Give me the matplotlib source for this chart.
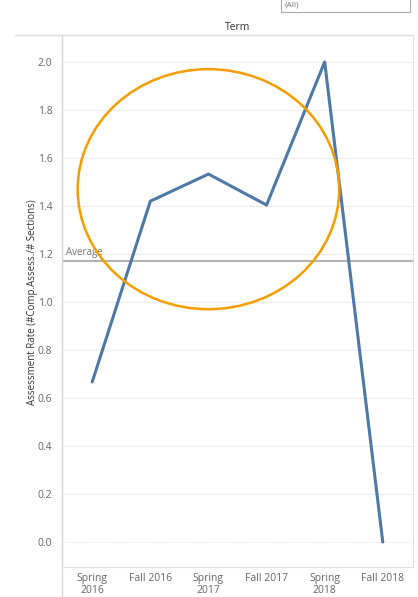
import matplotlib
matplotlib.use("Agg")
import matplotlib.pyplot as plt
from matplotlib.patches import Ellipse, Rectangle
from matplotlib.lines import Line2D
import numpy as np

plt.rcParams['font.family'] = ['Open Sans', 'DejaVu Sans']

terms = ["Spring\n2016", "Fall 2016", "Spring\n2017", "Fall 2017", "Spring\n2018", "Fall 2018"]
rates = [0.667, 1.42, 1.533, 1.404, 2.0, 0.0]
y_ticks = [0.0, 0.2, 0.4, 0.6, 0.8, 1.0, 1.2, 1.4, 1.6, 1.8, 2.0]
average = float(np.mean(rates))

W, H = 418, 597
fig = plt.figure(figsize=(W / 100, H / 100), dpi=100)
ax = fig.add_axes([62 / W, 1 - 567 / H, (413 - 62) / W, (567 - 37) / H])

x = np.arange(len(terms))
ax.plot(x, rates, color="#4e79a7", lw=2.2, solid_capstyle="round", zorder=3)

ax.set_xlim(-0.52, 5.52)
ax.set_ylim(-0.104, 2.104)
ax.set_yticks(y_ticks)
ax.set_yticklabels([f"{v:.1f}" for v in y_ticks])
ax.set_xticks(x)
ax.set_xticklabels(terms, linespacing=1.15)
ax.tick_params(axis="both", length=0, labelsize=7.5, colors="#666666")
ax.tick_params(axis="x", pad=4)
ax.tick_params(axis="y", pad=7)

for v in y_ticks:
    ax.axhline(v, color="#ececec", lw=0.8, ls=(0, (1.5, 1.5)) if v == 0 else "-", zorder=1)

ax.spines["top"].set_visible(False)
ax.spines["left"].set_color("#d0d0d0")
ax.spines["right"].set_color("#e0e0e0")
ax.spines["bottom"].set_color("#e0e0e0")

# reference line
ax.axhline(average, color="#9a9a9a", lw=1.1, zorder=2)
ax.text(0.01, average + 0.012, "Average", transform=ax.get_yaxis_transform(),
        fontsize=7, color="#777777", va="bottom", ha="left")

# highlight ring
ax.add_patch(Ellipse((2.0, 1.47), 4.5, 1.0, fill=False, edgecolor="#f59d00",
                     lw=1.8, zorder=4))

ax.set_ylabel("Assessment Rate (#Comp.Assess./# Sections)", fontsize=7,
              color="#333333", labelpad=0)

# column header
fig.text((62 + 413) / 2 / W, 1 - 28 / H, "Term", ha="center", va="center",
         fontsize=7.5, color="#333333")
fig.add_artist(Line2D([15 / W, 413 / W], [1 - 35 / H, 1 - 35 / H],
                      color="#dcdcdc", lw=1, transform=fig.transFigure))
fig.add_artist(Line2D([62 / W, 62 / W], [0, 1 - 35 / H],
                      color="#d8d8d8", lw=1, transform=fig.transFigure))

# filter box at the top
fig.add_artist(Rectangle((281 / W, 1 - 12 / H), (410 - 281) / W, 20 / H,
                         fill=False, edgecolor="#aaaaaa", lw=0.8,
                         transform=fig.transFigure))
fig.text(285 / W, 1 - 5.5 / H, "(All)", fontsize=6, color="#777777",
         va="center", ha="left")

fig.savefig("out.png", dpi=100)
